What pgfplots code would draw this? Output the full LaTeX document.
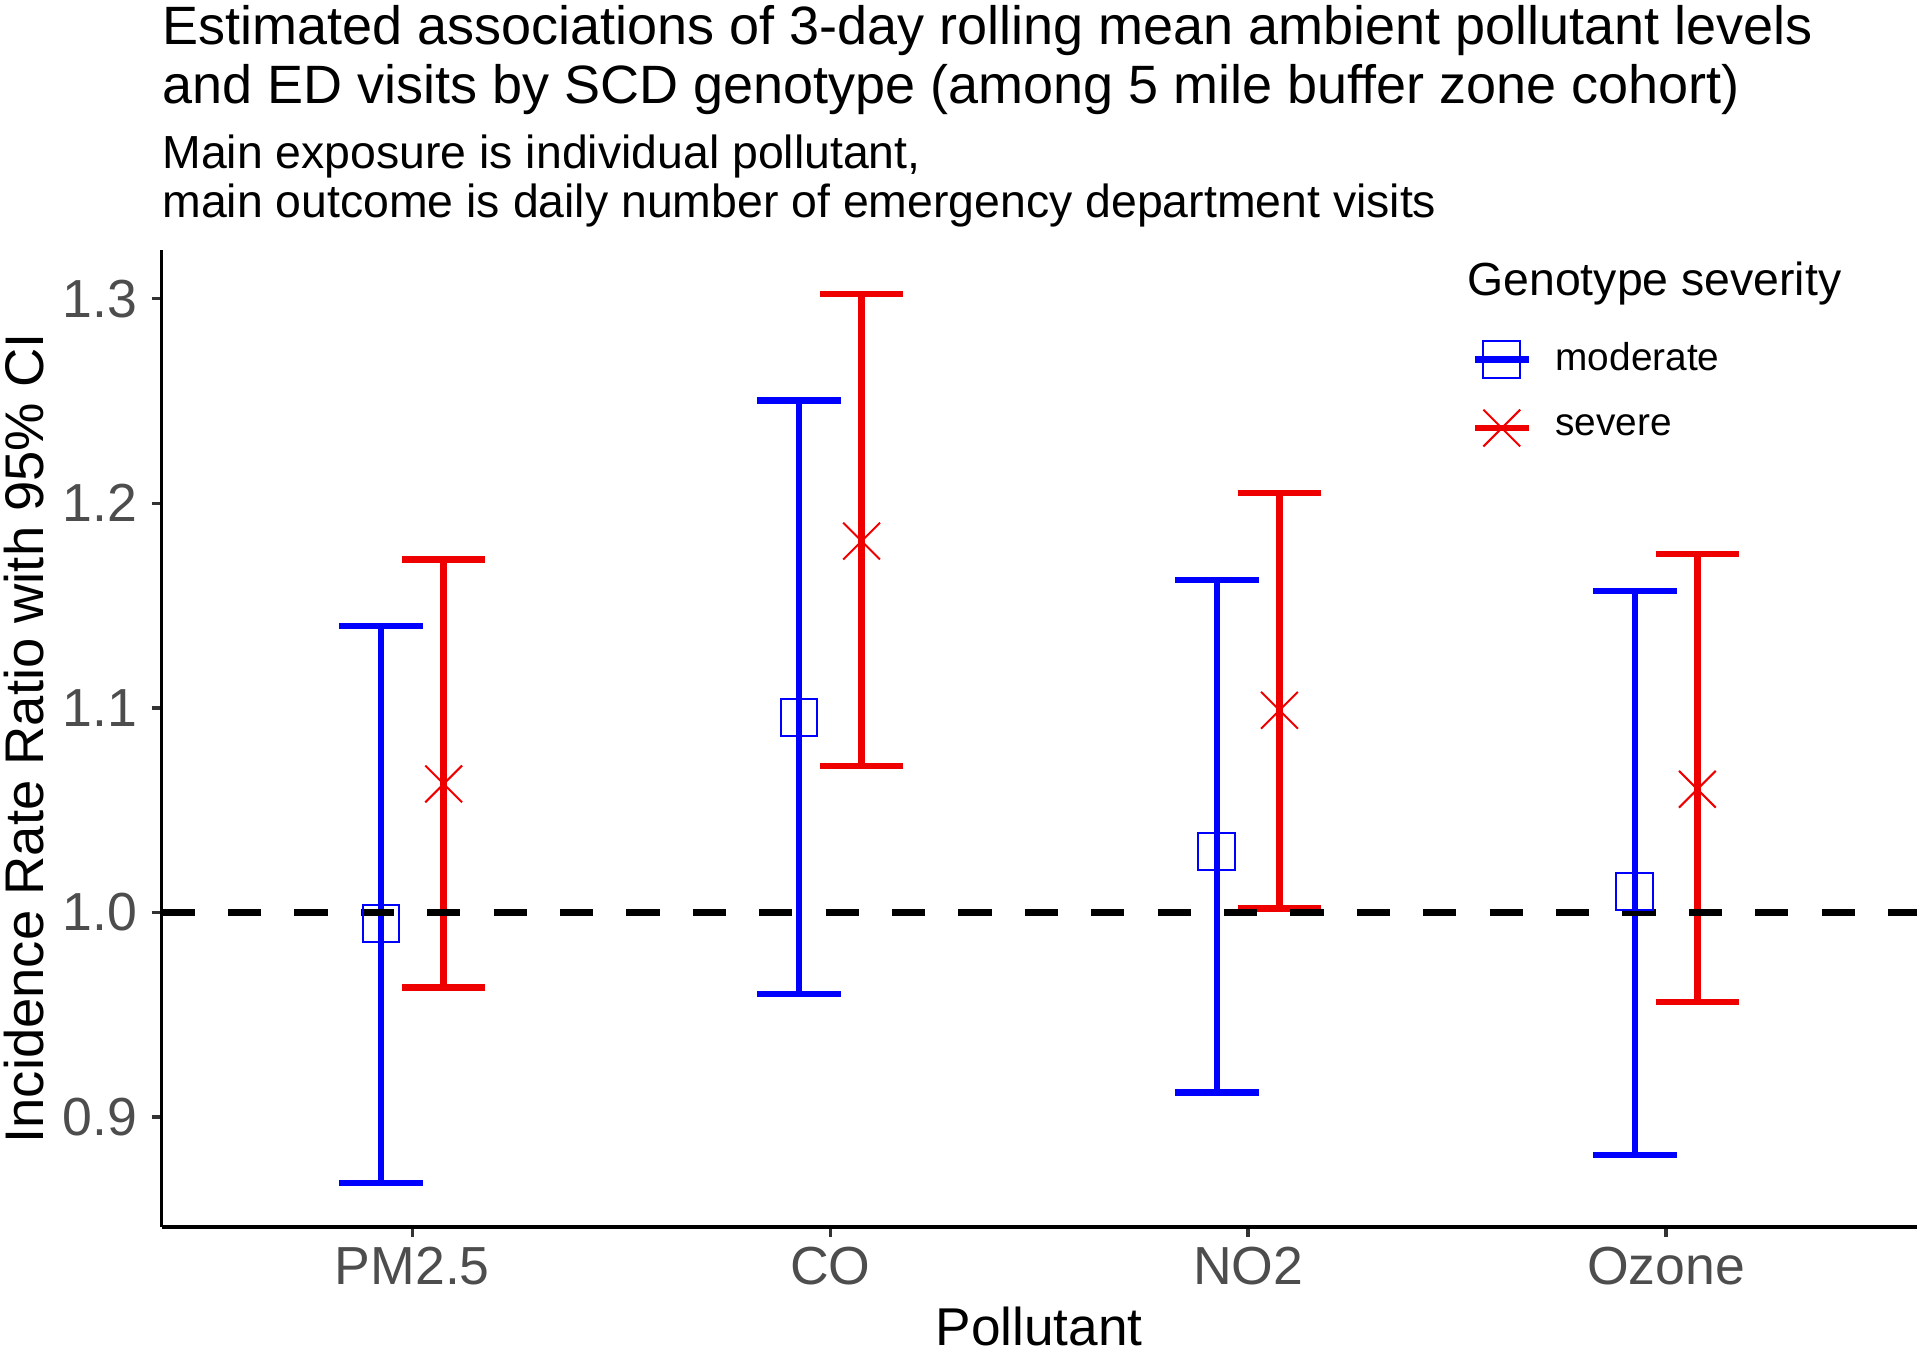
\documentclass[border=0pt]{standalone}
\usepackage{fontspec}
\setmainfont{Liberation Sans}
\usepackage{pgfplots}
\usepackage{pgfplotstable}
\pgfplotsset{compat=1.18}

\definecolor{modblue}{HTML}{0000FF}
\definecolor{sevred}{HTML}{EE0000}
\definecolor{tickgrey}{HTML}{4D4D4D}
\definecolor{tickmark}{HTML}{333333}

% incidence rate ratio with 95% CI, dodged around each pollutant
\pgfplotstableread{
x     y      lo     hi
0.925 0.9947 0.8678 1.1400
1.925 1.0954 0.9600 1.2503
2.925 1.0298 0.9119 1.1626
3.925 1.0102 0.8815 1.1570
}\moderate
\pgfplotstableread{
x     y      lo     hi
1.075 1.0628 0.9633 1.1725
2.075 1.1815 1.0716 1.3024
3.075 1.0988 1.0019 1.2050
4.075 1.0602 0.9563 1.1752
}\severe

\begin{document}
\begin{tikzpicture}
\useasboundingbox (-40.4pt,-31.3pt) rectangle (439.6pt,306.7pt);
\begin{axis}[
  at={(0pt,0pt)}, anchor=south west, name=ax,
  scale only axis, width=438.8pt, height=244.3pt,
  xmin=0.4, xmax=4.6, ymin=0.8463, ymax=1.324,
  axis lines=left,
  axis line style={-, line width=0.85pt, black},
  xtick={1,2,3,4}, xticklabels={PM2.5,CO,NO2,Ozone},
  ytick={0.9,1.0,1.1,1.2,1.3},
  yticklabel style={/pgf/number format/fixed, /pgf/number format/fixed zerofill,
    /pgf/number format/precision=1},
  xticklabel style={yshift=0.9pt},
  /pgf/number format/assume math mode=true,
  tick align=outside, major tick length=2.5pt,
  tick style={line width=0.85pt, color=tickmark},
  ticklabel style={font=\fontsize{13.4}{16}\selectfont, text=tickgrey},
  legend image code/.code={
    \draw[mark repeat=2, mark phase=2] plot coordinates {(0pt,0pt) (6.75pt,0pt) (13.5pt,0pt)};},
  legend style={draw=none, fill=none, inner sep=0pt, at={(0.7459,0.907)}, anchor=north west,
    row sep=7.9pt, column sep=5.9pt, nodes={inner sep=0pt},
    font=\fontsize{9.7}{11}\selectfont},
  legend cell align=left,
  clip=false,
]
\addplot[only marks, modblue, mark=square, mark size=4.6pt, mark options={line width=0.5pt},
  forget plot,
  error bars/.cd, y dir=both, y explicit,
  error bar style={line width=1.6pt, modblue},
  error mark options={rotate=90, line width=1.6pt, mark size=10.45pt, modblue}]
  table[x=x, y=y, y error plus expr=\thisrow{hi}-\thisrow{y},
        y error minus expr=\thisrow{y}-\thisrow{lo}] {\moderate};
\addplot[only marks, sevred, mark=x, mark size=6.5pt, mark options={line width=0.5pt},
  forget plot,
  error bars/.cd, y dir=both, y explicit,
  error bar style={line width=1.6pt, sevred},
  error mark options={rotate=90, line width=1.6pt, mark size=10.45pt, sevred}]
  table[x=x, y=y, y error plus expr=\thisrow{hi}-\thisrow{y},
        y error minus expr=\thisrow{y}-\thisrow{lo}] {\severe};
\addplot[black, line width=1.7pt, dash pattern=on 8.3pt off 8.3pt, forget plot]
  coordinates {(0.4,1) (4.6,1)};

\addlegendimage{modblue, line width=1.6pt, mark=square, mark size=4.6pt, mark options={line width=0.5pt}}
\addlegendentry{moderate}
\addlegendimage{sevred, line width=1.6pt, mark=x, mark size=6.5pt, mark options={line width=0.5pt}}
\addlegendentry{severe}
\end{axis}

\node[anchor=base west, inner sep=0pt, font=\fontsize{13.5}{15}\selectfont] at (0pt,295.5pt)
  {Estimated associations of 3-day rolling mean ambient pollutant levels};
\node[anchor=base west, inner sep=0pt, font=\fontsize{13.5}{15}\selectfont] at (0pt,280.7pt)
  {and ED visits by SCD genotype (among 5 mile buffer zone cohort)};
\node[anchor=base west, inner sep=0pt, font=\fontsize{11.6}{13}\selectfont] at (0pt,264.5pt)
  {Main exposure is individual pollutant,};
\node[anchor=base west, inner sep=0pt, font=\fontsize{11.6}{13}\selectfont] at (0pt,252.2pt)
  {main outcome is daily number of emergency department visits};
\node[anchor=base, inner sep=0pt, font=\fontsize{13.3}{16}\selectfont] at (219.4pt,-29.6pt)
  {Pollutant};
\node[anchor=base, rotate=90, inner sep=0pt, font=\fontsize{13.6}{16}\selectfont] at (-29.6pt,122.15pt)
  {Incidence Rate Ratio with 95\% CI};
\node[anchor=base west, inner sep=0pt, font=\fontsize{11.6}{13}\selectfont] at (326.25pt,232.9pt)
  {Genotype severity};
\end{tikzpicture}
\end{document}
